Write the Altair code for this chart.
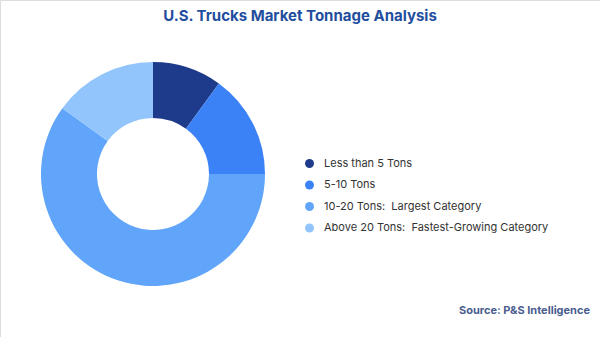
import altair as alt
import pandas as pd

categories = ["Less than 5 Tons", "5-10 Tons", "10-20 Tons:\u00a0 Largest Category",
              "Above 20 Tons:\u00a0 Fastest-Growing Category"]
shares = [10, 15, 60, 15]
colors = ["#1e3a8a", "#3b82f6", "#60a5fa", "#93c5fd"]

df = pd.DataFrame({"category": categories, "share": shares, "idx": list(range(len(categories)))})

FONT = "Inter"

donut = alt.Chart(df).mark_arc(innerRadius=56, outerRadius=112, stroke=None).encode(
    theta=alt.Theta("share:Q", stack=True),
    order=alt.Order("idx:Q"),
    color=alt.Color(
        "category:N",
        scale=alt.Scale(domain=categories, range=colors),
        sort=categories,
        legend=alt.Legend(
            title=None, orient="none", legendX=304, legendY=158,
            symbolType="circle", symbolSize=80, symbolStrokeWidth=0,
            labelFontSize=11, labelFont=FONT, labelColor="#333333",
            rowPadding=9.5, labelOffset=9, labelLimit=400,
        ),
    ),
    x=alt.value(153),
    y=alt.value(174),
)

title = alt.Chart(pd.DataFrame({"t": ["U.S. Trucks Market Tonnage Analysis"]})).mark_text(
    font=FONT, fontSize=15, fontWeight="bold", color="#1f4e9e", align="center", baseline="middle"
).encode(text="t:N", x=alt.value(300), y=alt.value(16))

source = alt.Chart(pd.DataFrame({"t": ["Source: P&S Intelligence"]})).mark_text(
    font=FONT, fontSize=11, fontWeight="bold", color="#4a5d8f", align="right", baseline="middle"
).encode(text="t:N", x=alt.value(590), y=alt.value(311))

chart = alt.layer(donut, title, source).properties(
    width=600, height=337, padding=0, autosize=alt.AutoSizeParams(type="none")
).configure_view(stroke=None).configure(background="white")

chart.save("out.html", embed_options={"renderer": "svg", "actions": False})
